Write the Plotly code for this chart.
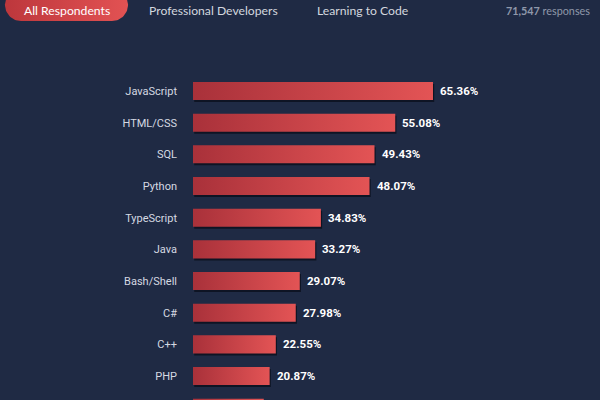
import numpy as np
import plotly.graph_objects as go

# ---- data ----
languages = ["JavaScript", "HTML/CSS", "SQL", "Python", "TypeScript", "Java",
             "Bash/Shell", "C#", "C++", "PHP", "C"]
shares = [65.36, 55.08, 49.43, 48.07, 34.83, 33.27, 29.07, 27.98, 22.55, 20.87, 19.27]
tabs = ["All Respondents", "Professional Developers", "Learning to Code"]
responses = "71,547"

BG = "#1f2a44"
W, H = 600, 400
BAR_C0, BAR_C1 = "#a9313a", "#e35455"
PX_PER_UNIT_X = 3.672
HALF = 0.285

fig = go.Figure()

# shadow + bars as gradient-filled polygons built from the data values
for i, v in enumerate(shares):
    dx, dy = 1.2 / PX_PER_UNIT_X, 2.0 / 31.67
    fig.add_trace(go.Scatter(
        x=[0 + dx, v + dx, v + dx, 0 + dx, 0 + dx],
        y=[i - HALF + dy, i - HALF + dy, i + HALF + dy, i + HALF + dy, i - HALF + dy],
        mode="lines", line=dict(width=0), fill="toself",
        fillcolor="rgba(10,14,26,0.75)", hoverinfo="skip", showlegend=False,
        xaxis="x", yaxis="y"))
    fig.add_trace(go.Scatter(
        x=[0, v, v, 0, 0],
        y=[i - HALF, i - HALF, i + HALF, i + HALF, i - HALF],
        mode="lines", line=dict(width=0), fill="toself",
        fillgradient=dict(type="horizontal", colorscale=[[0, BAR_C0], [1, BAR_C1]]),
        hoverinfo="skip", showlegend=False, xaxis="x", yaxis="y"))

# value labels
for i, v in enumerate(shares):
    fig.add_annotation(x=v, y=i, xref="x", yref="y", text=f"<b>{v:.2f}%</b>",
                       showarrow=False, xanchor="left", xshift=5,
                       font=dict(family="Roboto", size=11.5, color="#ffffff"))

# pill for active tab (independent pixel axes covering the whole figure)
r, cy, xl, xr = 16, 5, 21, 112
t1 = np.linspace(-np.pi / 2, np.pi / 2, 40)
t2 = np.linspace(np.pi / 2, 3 * np.pi / 2, 40)
px = np.concatenate([xr + r * np.cos(t1), xl + r * np.cos(t2), [xr]])
py = np.concatenate([cy + r * np.sin(t1), cy + r * np.sin(t2), [cy - r]])
fig.add_trace(go.Scatter(
    x=px, y=py, mode="lines", line=dict(width=0), fill="toself",
    fillgradient=dict(type="horizontal", colorscale=[[0, "#bd373c"], [1, "#e25253"]]),
    hoverinfo="skip", showlegend=False, xaxis="x2", yaxis="y2"))

# header texts
tab_x = [67, 213, 362]
tab_col = ["#ffffff", "#d3d7df", "#d3d7df"]
for name, xc, col in zip(tabs, tab_x, tab_col):
    fig.add_annotation(x=xc / W, y=1 - 10 / H, xref="paper", yref="paper", text=name,
                       showarrow=False, xanchor="center", yanchor="middle",
                       font=dict(family="Lato", size=12.2, color=col))
fig.add_annotation(x=590 / W, y=1 - 10 / H, xref="paper", yref="paper",
                   text=f"<b>{responses}</b> responses", showarrow=False,
                   xanchor="right", yanchor="middle", xshift=2,
                   font=dict(family="Lato", size=10.8, color="#8f98aa"))

x_range_max = (W - 193) / PX_PER_UNIT_X
fig.update_layout(
    width=W, height=H, margin=dict(l=0, r=0, t=0, b=0),
    paper_bgcolor=BG, plot_bgcolor="rgba(0,0,0,0)",
    xaxis=dict(domain=[193 / W, 1], range=[0, x_range_max], visible=False, fixedrange=True),
    yaxis=dict(domain=[0, 340 / H], range=[9.757, -0.979], tickvals=list(range(len(languages))),
               ticktext=languages, showgrid=False, zeroline=False, showline=False,
               ticks="", ticklabelstandoff=15,
               tickfont=dict(family="Roboto", size=11, color="#d5d9e2")),
    xaxis2=dict(domain=[0, 1], range=[0, W], visible=False, anchor="y2"),
    yaxis2=dict(domain=[0, 1], range=[H, 0], visible=False, anchor="x2"),
    showlegend=False,
)

fig.write_html("out.html")
